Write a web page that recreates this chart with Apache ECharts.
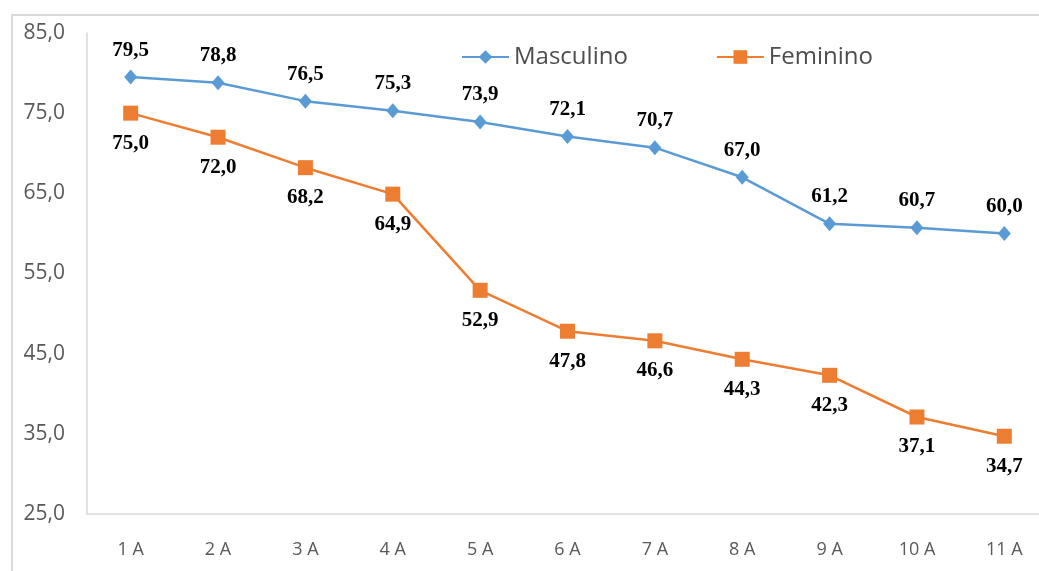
<!DOCTYPE html>
<html>
<head>
<meta charset="utf-8">
<script src="https://cdn.jsdelivr.net/npm/echarts@6/dist/echarts.min.js"></script>
<style>
  html, body { margin: 0; padding: 0; background: #fff; overflow: hidden; width: 1039px; height: 571px; }
  #frame { position: absolute; left: 11px; top: 14px; width: 1040px; height: 570px; border: 2px solid #d9d9d9; box-sizing: border-box; }
  #chart { position: absolute; left: 0; top: 0; width: 1060px; height: 571px; }
</style>
</head>
<body>
<div id="frame"></div>
<div id="chart"></div>
<script>
const categories = ['1 A', '2 A', '3 A', '4 A', '5 A', '6 A', '7 A', '8 A', '9 A', '10 A', '11 A'];
const masculino = [79.5, 78.8, 76.5, 75.3, 73.9, 72.1, 70.7, 67.0, 61.2, 60.7, 60.0];
const feminino = [75.0, 72.0, 68.2, 64.9, 52.9, 47.8, 46.6, 44.3, 42.3, 37.1, 34.7];
const yTicks = { min: 25, max: 85, interval: 10 };

const fmt = v => v.toFixed(1).replace('.', ',');
const labelStyle = {
  show: true,
  fontFamily: 'Liberation Serif',
  fontWeight: 'bold',
  fontSize: 21,
  color: '#000',
  formatter: p => fmt(p.value)
};

const chart = echarts.init(document.getElementById('chart'));
chart.setOption({
  animation: false,
  grid: { left: 87, top: 33, width: 961, height: 481, containLabel: false },
  legend: {
    top: 40,
    left: 456,
    itemGap: 88,
    itemWidth: 47,
    itemHeight: 17,
    textStyle: { fontFamily: 'Open Sans', fontSize: 24, color: '#4d4d4d' },
    data: ['Masculino', 'Feminino']
  },
  xAxis: {
    type: 'category',
    data: categories,
    boundaryGap: true,
    axisLine: { lineStyle: { color: '#d9d9d9', width: 1.5 } },
    axisTick: { show: false },
    axisLabel: { margin: 27, fontFamily: 'Open Sans', fontSize: 18, color: '#595959' }
  },
  yAxis: {
    type: 'value',
    min: yTicks.min,
    max: yTicks.max,
    interval: yTicks.interval,
    splitLine: { show: false },
    axisLine: { show: true, lineStyle: { color: '#d9d9d9', width: 1.5 } },
    axisTick: { show: false },
    axisLabel: { margin: 22, fontFamily: 'Open Sans', fontSize: 21, color: '#595959', formatter: v => fmt(v) }
  },
  series: [
    {
      name: 'Masculino',
      type: 'line',
      data: masculino,
      symbol: 'diamond',
      symbolSize: [13, 15],
      color: '#5B9BD5',
      lineStyle: { width: 2.5, color: '#5B9BD5' },
      itemStyle: { color: '#5B9BD5' },
      label: Object.assign({ position: 'top', distance: 9 }, labelStyle)
    },
    {
      name: 'Feminino',
      type: 'line',
      data: feminino,
      symbol: 'rect',
      symbolSize: 15,
      color: '#ED7D31',
      lineStyle: { width: 2.5, color: '#ED7D31' },
      itemStyle: { color: '#ED7D31' },
      label: Object.assign({ position: 'bottom', distance: 12 }, labelStyle)
    }
  ]
});
</script>
</body>
</html>
